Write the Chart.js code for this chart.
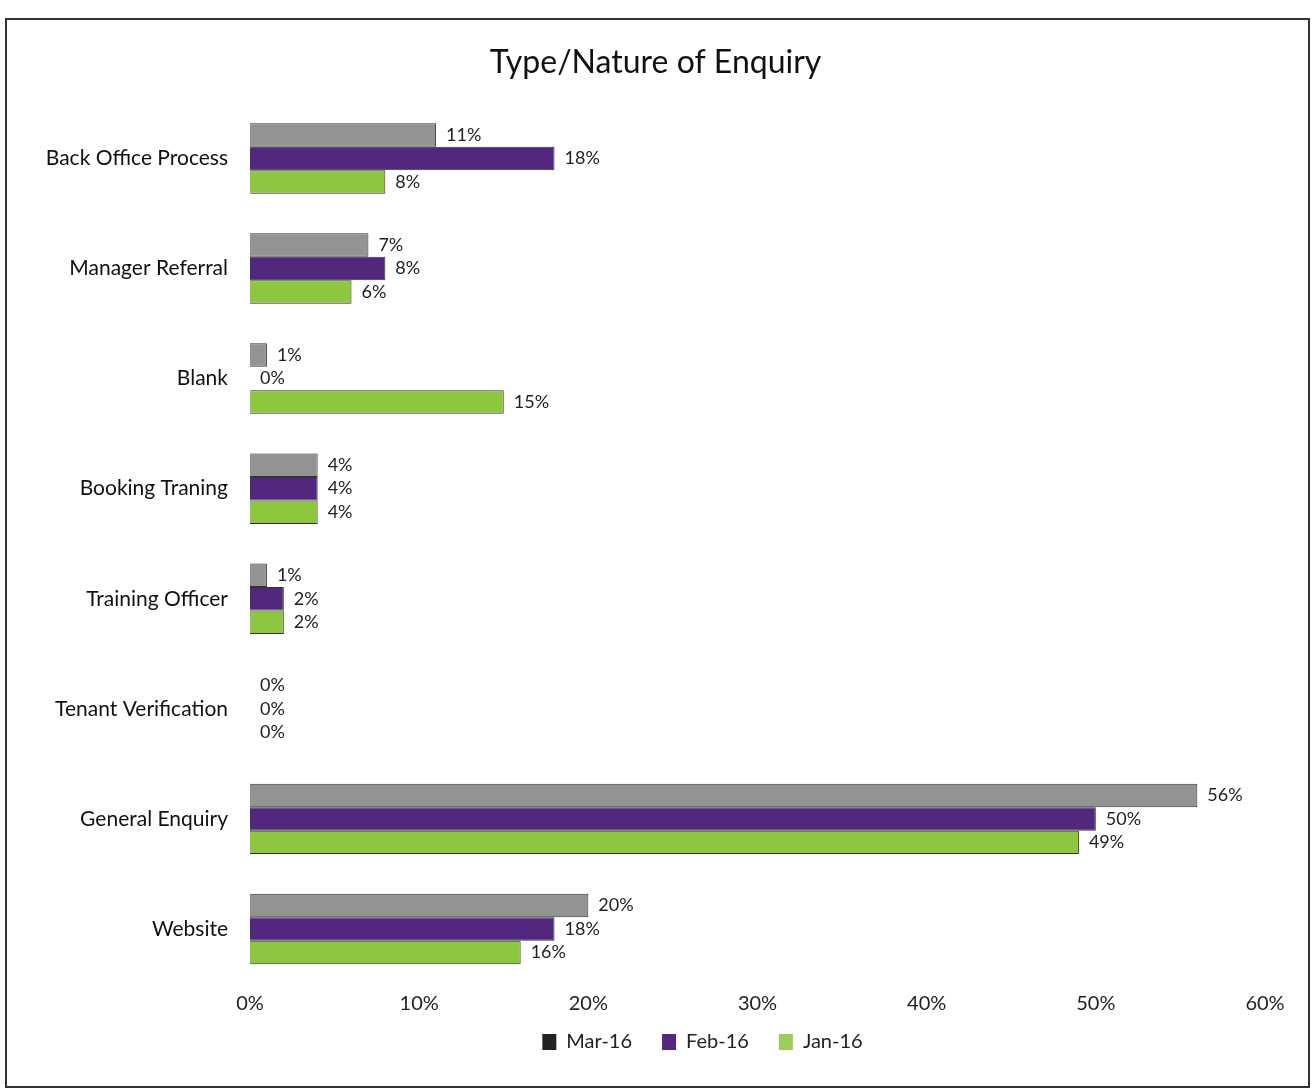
<!DOCTYPE html>
<html>
<head>
<meta charset="utf-8">
<script src="https://cdn.jsdelivr.net/npm/chart.js@4/dist/chart.umd.min.js"></script>
<style>
  html, body { margin: 0; padding: 0; background: #fff; }
  #wrap { position: relative; width: 1314px; height: 1092px; }
  #frame { position: absolute; left: 5px; top: 18px; width: 1301px; height: 1066px; border: 2px solid #333; pointer-events: none; }
  canvas { display: block; }
</style>
</head>
<body>
<div id="wrap">
  <canvas id="c" width="1314" height="1092"></canvas>
  <div id="frame"></div>
</div>
<script>
const categories = ["Back Office Process", "Manager Referral", "Blank", "Booking Traning", "Training Officer", "Tenant Verification", "General Enquiry", "Website"];
const seriesNames = ["Mar-16", "Feb-16", "Jan-16"];
const mar16 = [11, 7, 1, 4, 1, 0, 56, 20];
const feb16 = [18, 8, 0, 4, 2, 0, 50, 18];
const jan16 = [8, 6, 15, 4, 2, 0, 49, 16];
const xTicks = [0, 10, 20, 30, 40, 50, 60];

const fills = ["#939393", "#52287f", "#8dc63f"];
const legendFills = ["#222222", "#52287f", "#9ccc5a"];
const FONT = "Lato, 'Open Sans', sans-serif";

const valueLabels = {
  id: "valueLabels",
  afterDatasetsDraw(chart) {
    const ctx = chart.ctx;
    ctx.save();
    ctx.font = "18px " + FONT;
    ctx.fillStyle = "#222";
    ctx.textAlign = "left";
    ctx.textBaseline = "middle";
    chart.data.datasets.forEach((ds, i) => {
      const meta = chart.getDatasetMeta(i);
      meta.data.forEach((bar, j) => {
        ctx.fillText(ds.data[j] + "%", bar.x + 10, bar.y);
      });
    });
    ctx.restore();
  }
};

const legendShift = {
  id: "legendShift",
  afterLayout(chart) {
    if (chart.legend) {
      chart.legend.left += 47;
      chart.legend.right += 47;
      chart.legend.top -= 22;
      chart.legend.bottom -= 22;
    }
  }
};

new Chart(document.getElementById("c"), {
  type: "bar",
  data: {
    labels: categories,
    datasets: [
      { label: seriesNames[0], data: mar16, backgroundColor: fills[0], borderColor: "#333", borderWidth: 1 },
      { label: seriesNames[1], data: feb16, backgroundColor: fills[1], borderColor: "#333", borderWidth: 1 },
      { label: seriesNames[2], data: jan16, backgroundColor: fills[2], borderColor: "#333", borderWidth: 1 }
    ]
  },
  options: {
    indexAxis: "y",
    responsive: false,
    animation: false,
    devicePixelRatio: 1,
    layout: { padding: { top: 30, left: 46, right: 49, bottom: 8 } },
    datasets: { bar: { categoryPercentage: 0.64, barPercentage: 1.0 } },
    scales: {
      x: {
        min: 0, max: 60,
        afterBuildTicks(scale) { scale.ticks = xTicks.map(v => ({ value: v })); },
        grid: { display: false, drawTicks: false },
        border: { display: false },
        ticks: { color: "#222", font: { size: 20, family: FONT }, padding: 8, callback: v => v + "%" }
      },
      y: {
        afterFit(scale) { scale.width = 204; },
        grid: { display: false, drawTicks: false },
        border: { display: false },
        ticks: { color: "#111", font: { size: 21, family: FONT }, padding: 22 }
      }
    },
    plugins: {
      title: {
        display: true,
        text: "Type/Nature of Enquiry",
        color: "#111",
        font: { size: 32, family: FONT, weight: "normal" },
        padding: { top: 13, bottom: 22 }
      },
      legend: {
        position: "bottom",
        labels: {
          color: "#222",
          font: { size: 20, family: FONT },
          boxWidth: 14, boxHeight: 16,
          padding: 30,
          generateLabels(chart) {
            return chart.data.datasets.map((ds, i) => ({
              text: ds.label,
              fillStyle: legendFills[i],
              strokeStyle: legendFills[i],
              lineWidth: 0,
              fontColor: "#222",
              datasetIndex: i,
              hidden: false
            }));
          }
        }
      },
      tooltip: { enabled: false }
    }
  },
  plugins: [valueLabels, legendShift]
});
</script>
</body>
</html>
